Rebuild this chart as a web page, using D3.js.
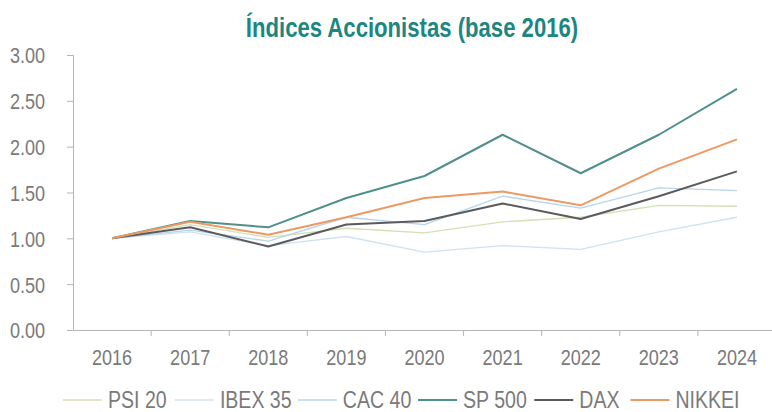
<!DOCTYPE html>
<html>
<head>
<meta charset="utf-8">
<script src="https://cdn.jsdelivr.net/npm/d3@7"></script>
<style>
  body { margin: 0; background: #fff; }
  svg text { font-family: "Liberation Sans", Arial, sans-serif; }
</style>
</head>
<body>
<div id="chart"></div>
<script>
// data (base 2016 = 1.00)
var years = ["2016", "2017", "2018", "2019", "2020", "2021", "2022", "2023", "2024"];
var psi20  = [1.00, 1.15, 1.01, 1.11, 1.06, 1.18, 1.23, 1.36, 1.35];
var ibex35 = [1.00, 1.07, 0.92, 1.02, 0.85, 0.92, 0.88, 1.07, 1.23];
var cac40  = [1.00, 1.09, 0.97, 1.23, 1.15, 1.46, 1.33, 1.55, 1.52];
var sp500  = [1.00, 1.19, 1.12, 1.44, 1.68, 2.13, 1.71, 2.13, 2.63];
var dax    = [1.00, 1.12, 0.91, 1.15, 1.19, 1.38, 1.21, 1.46, 1.73];
var nikkei = [1.00, 1.18, 1.04, 1.23, 1.44, 1.51, 1.36, 1.76, 2.08];
var yTicks = [0, 0.5, 1, 1.5, 2, 2.5, 3];

var series = [
  { name: "PSI 20",  values: psi20,  color: "#d3e0b5", width: 1.4 },
  { name: "IBEX 35", values: ibex35, color: "#cfe2f1", width: 1.4 },
  { name: "CAC 40",  values: cac40,  color: "#b9d5ea", width: 1.4 },
  { name: "SP 500",  values: sp500,  color: "#4f8f8c", width: 2 },
  { name: "DAX",     values: dax,    color: "#5b5b5f", width: 2 },
  { name: "NIKKEI",  values: nikkei, color: "#ec9a64", width: 2 }
];

var width = 772, height = 412;
var svg = d3.select("#chart").append("svg")
  .attr("width", width)
  .attr("height", height);

var x = d3.scaleBand().domain(years).range([73, 776]);
var y = d3.scaleLinear().domain([0, 3]).range([330, 55]);
var axisColor = "#b5b5b5";

// no narrow font installed: squeeze Liberation Sans to an Arial Narrow width
function narrow(sel, k) {
  k = k || 0.82;
  sel.each(function () {
    var w = this.getComputedTextLength();
    d3.select(this)
      .attr("textLength", w * k)
      .attr("lengthAdjust", "spacingAndGlyphs");
  });
}

// title
svg.append("text")
  .attr("x", 412)
  .attr("y", 37)
  .attr("text-anchor", "middle")
  .style("font-size", "28px")
  .style("font-weight", "bold")
  .style("fill", "#1d8680")
  .text("Índices Accionistas (base 2016)")
  .call(narrow, 0.79);

// y axis
var yAxis = svg.append("g")
  .attr("transform", "translate(73,0)")
  .call(d3.axisLeft(y).tickValues(yTicks).tickSize(6).tickPadding(22).tickFormat(d3.format(".2f")));
yAxis.select(".domain").attr("stroke", axisColor);
yAxis.selectAll(".tick line").attr("stroke", axisColor);
yAxis.selectAll(".tick text")
  .attr("dy", "0.36em")
  .style("font-size", "22px")
  .style("fill", "#7a7a7a")
  .call(narrow);

// x axis, ticks between categories
var xAxis = svg.append("g")
  .attr("transform", "translate(0,330)")
  .call(d3.axisBottom(x).tickSize(0).tickPadding(19));
xAxis.select(".domain").attr("stroke", axisColor);
xAxis.selectAll(".tick text")
  .style("font-size", "22px")
  .style("fill", "#7a7a7a")
  .call(narrow);
xAxis.selectAll(".sep")
  .data(years.slice(0, -1)).enter()
  .append("line")
  .attr("class", "sep")
  .attr("x1", function (d) { return x(d) + x.bandwidth(); })
  .attr("x2", function (d) { return x(d) + x.bandwidth(); })
  .attr("y1", 0)
  .attr("y2", 6)
  .attr("stroke", axisColor);

// lines
var line = d3.line()
  .x(function (d, i) { return x(years[i]) + x.bandwidth() / 2; })
  .y(function (d) { return y(d); });

svg.selectAll(".series")
  .data(series).enter()
  .append("path")
  .attr("class", "series")
  .attr("d", function (d) { return line(d.values); })
  .attr("fill", "none")
  .attr("stroke", function (d) { return d.color; })
  .attr("stroke-width", function (d) { return d.width; })
  .attr("stroke-linejoin", "round");

// legend
var legend = svg.append("g").attr("transform", "translate(63,400)");
var lx = 0;
series.forEach(function (s) {
  var g = legend.append("g").attr("transform", "translate(" + lx + ",0)");
  g.append("line")
    .attr("x1", 0).attr("x2", 39)
    .attr("y1", 0).attr("y2", 0)
    .attr("stroke", s.color)
    .attr("stroke-width", s.width);
  var t = g.append("text")
    .attr("x", 45)
    .attr("dy", "0.36em")
    .style("font-size", "23px")
    .style("fill", "#7a7a7a")
    .text(s.name)
    .call(narrow, 0.85);
  lx += 45 + t.node().getComputedTextLength() * 0.85 + 17;
});
</script>
</body>
</html>
